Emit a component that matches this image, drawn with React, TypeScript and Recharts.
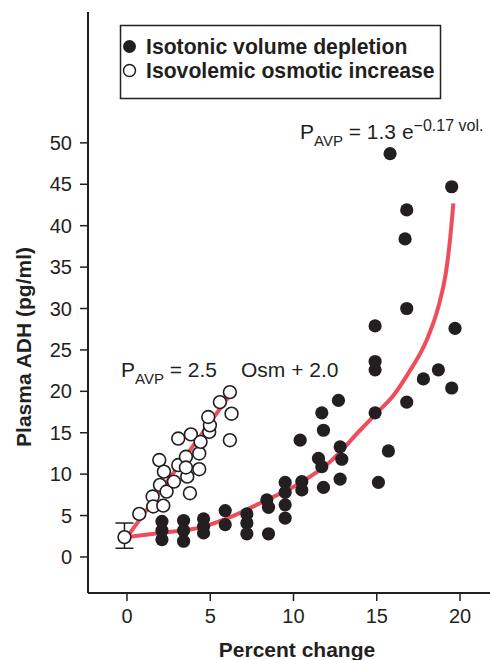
import { ComposedChart, Scatter, Line, XAxis, YAxis, ErrorBar, Label } from 'recharts';

// filled dots: isotonic volume depletion  [percent change, ADH]
const depletionPoints: [number, number][] = [
  [2.1, 4.3], [2.1, 3.2], [2.1, 2.1],
  [3.4, 4.4], [3.4, 3.2], [3.4, 1.9],
  [4.6, 4.6], [4.6, 3.7], [4.6, 2.9],
  [5.9, 5.6], [5.9, 3.9],
  [7.2, 5.2], [7.2, 4.1], [7.2, 2.8],
  [8.4, 6.9], [8.5, 6.0], [8.5, 2.8],
  [9.5, 9.0], [9.5, 7.8], [9.5, 6.3], [9.5, 4.7],
  [10.5, 9.1], [10.5, 8.1], [10.4, 14.1],
  [11.5, 11.9], [11.7, 10.9], [11.8, 8.4], [11.7, 17.4], [11.8, 15.3],
  [12.7, 18.9], [12.8, 13.3], [12.9, 11.8], [12.8, 9.4],
  [14.9, 27.9], [14.9, 23.6], [14.9, 22.6], [14.9, 17.4], [15.1, 9.0],
  [15.8, 48.7], [15.7, 12.8],
  [16.8, 41.9], [16.7, 38.4], [16.8, 30.0], [16.8, 18.7],
  [17.8, 21.5], [18.7, 22.6], [19.5, 44.7], [19.7, 27.6], [19.5, 20.4],
];

// open circles: isovolemic osmotic increase
const osmoticPoints: [number, number][] = [
  [0.74, 5.2], [1.54, 7.3], [1.58, 6.1], [2.18, 6.2], [1.98, 8.7], [2.38, 7.9],
  [1.94, 11.7], [2.22, 10.3], [2.82, 9.1], [3.78, 7.7], [3.08, 11.1], [3.54, 12.1],
  [3.62, 9.7], [3.54, 10.8], [4.34, 12.5], [4.34, 10.6], [3.08, 14.3], [3.84, 14.8],
  [4.42, 13.9], [4.94, 15.1], [4.98, 15.9], [4.88, 16.9], [5.58, 18.7], [6.18, 19.9],
  [6.28, 17.3], [6.18, 14.1],
];

// baseline point with its error range [below, above]
const baselinePoint = { x: -0.15, y: 2.4, err: [1.35, 1.7] };

// fitted curves
const depletionCurve: [number, number][] = [
  [0, 2.4], [2, 2.9], [4.5, 3.6], [6.2, 4.8], [8.2, 6.7], [10.2, 8.7], [12.2, 11.5],
  [14, 15.3], [15, 17.4], [16, 19.5], [16.9, 22.2], [18, 26.2], [18.7, 30.2],
  [19.15, 34.3], [19.4, 38.3], [19.6, 42.7],
];
const osmoticLine: [number, number][] = [[0, 2.4], [6.2, 19.6]];

const xTicks = [0, 5, 10, 15, 20];
const yTicks = [0, 5, 10, 15, 20, 25, 30, 35, 40, 45, 50];

const toObj = (arr: [number, number][]) => arr.map(([x, y]) => ({ x, y }));

const INK = '#231F20';
const RED = '#EE4D5C';
const FONT = '"Liberation Sans", Arial, Helvetica, sans-serif';

const FilledDot = (p: any) => <circle cx={p.cx} cy={p.cy} r={6.6} fill={INK} />;
const OpenDot = (p: any) => (
  <circle cx={p.cx} cy={p.cy} r={6.4} fill="#fff" stroke={INK} strokeWidth={1.6} />
);

export default function App() {
  return (
    <div style={{ position: 'absolute', left: 0, top: 0, width: 490, height: 660, background: '#fff' }}>
      <ComposedChart
        width={490}
        height={660}
        margin={{ top: 12, right: 0, bottom: 27, left: 0 }}
        style={{ fontFamily: FONT }}
      >
        <XAxis
          type="number"
          dataKey="x"
          domain={[-2.34, 21.8]}
          ticks={xTicks}
          allowDataOverflow
          height={40}
          tickSize={8}
          tickMargin={8}
          axisLine={{ stroke: INK, strokeWidth: 2 }}
          tickLine={{ stroke: INK, strokeWidth: 1.5 }}
          tick={{ fill: INK, fontSize: 20, fontFamily: FONT }}
        >
          <Label
            content={() => (
              <text x={297} y={657} textAnchor="middle" fontFamily={FONT} fontWeight={700} fontSize={21} fill={INK}>
                Percent change
              </text>
            )}
          />
        </XAxis>
        <YAxis
          type="number"
          dataKey="y"
          domain={[-4.35, 65.8]}
          ticks={yTicks}
          allowDataOverflow
          width={88}
          tickSize={8}
          tickMargin={8}
          axisLine={{ stroke: INK, strokeWidth: 2 }}
          tickLine={{ stroke: INK, strokeWidth: 1.5 }}
          tick={{ fill: INK, fontSize: 20, fontFamily: FONT }}
        >
          <Label
            content={() => (
              <text
                x={31}
                y={347}
                transform="rotate(-90 31 347)"
                textAnchor="middle"
                fontFamily={FONT}
                fontWeight={700}
                fontSize={21}
                fill={INK}
              >
                Plasma ADH (pg/ml)
              </text>
            )}
          />
        </YAxis>
        <Scatter data={[baselinePoint]} shape={() => <g />} isAnimationActive={false}>
          <ErrorBar dataKey="err" direction="y" width={9} stroke={INK} strokeWidth={1.5} isAnimationActive={false} />
        </Scatter>
        <Line
          data={toObj(depletionCurve)}
          dataKey="y"
          type="monotone"
          stroke={RED}
          strokeWidth={4}
          dot={false}
          activeDot={false}
          isAnimationActive={false}
        />
        <Line
          data={toObj(osmoticLine)}
          dataKey="y"
          type="linear"
          stroke={RED}
          strokeWidth={4}
          dot={false}
          activeDot={false}
          isAnimationActive={false}
        />
        <Scatter
          name="Isotonic volume depletion"
          data={toObj(depletionPoints)}
          shape={FilledDot}
          isAnimationActive={false}
        />
        <Scatter
          name="Isovolemic osmotic increase"
          data={toObj(osmoticPoints)}
          shape={OpenDot}
          isAnimationActive={false}
        />
        <Scatter data={[baselinePoint]} shape={OpenDot} isAnimationActive={false} />
      </ComposedChart>
      <svg
        width={490}
        height={660}
        style={{ position: 'absolute', left: 0, top: 0, pointerEvents: 'none' }}
        fontFamily={FONT}
        fill={INK}
      >
        {/* legend */}
        <rect x={120.5} y={25.5} width={320} height={73} fill="#fff" stroke={INK} strokeWidth={1.5} />
        <circle cx={129.5} cy={46.5} r={6.5} fill={INK} />
        <circle cx={129.5} cy={70.5} r={6} fill="#fff" stroke={INK} strokeWidth={1.5} />
        <text x={146} y={54} fontWeight={700} fontSize={21.2}>Isotonic volume depletion</text>
        <text x={146} y={78} fontWeight={700} fontSize={21.2}>Isovolemic osmotic increase</text>
        {/* equations */}
        <text x={300} y={139} fontSize={21}>
          P
          <tspan fontSize={15} dy={7}>AVP</tspan>
          <tspan fontSize={21} dy={-7}> = 1.3 e</tspan>
          <tspan fontSize={16} dy={-8}>−0.17 vol.</tspan>
        </text>
        <text x={121} y={377} fontSize={21}>
          P
          <tspan fontSize={15} dy={7}>AVP</tspan>
          <tspan fontSize={21} dy={-7}> = 2.5</tspan>
          <tspan x={241}>Osm + 2.0</tspan>
        </text>
      </svg>
    </div>
  );
}
